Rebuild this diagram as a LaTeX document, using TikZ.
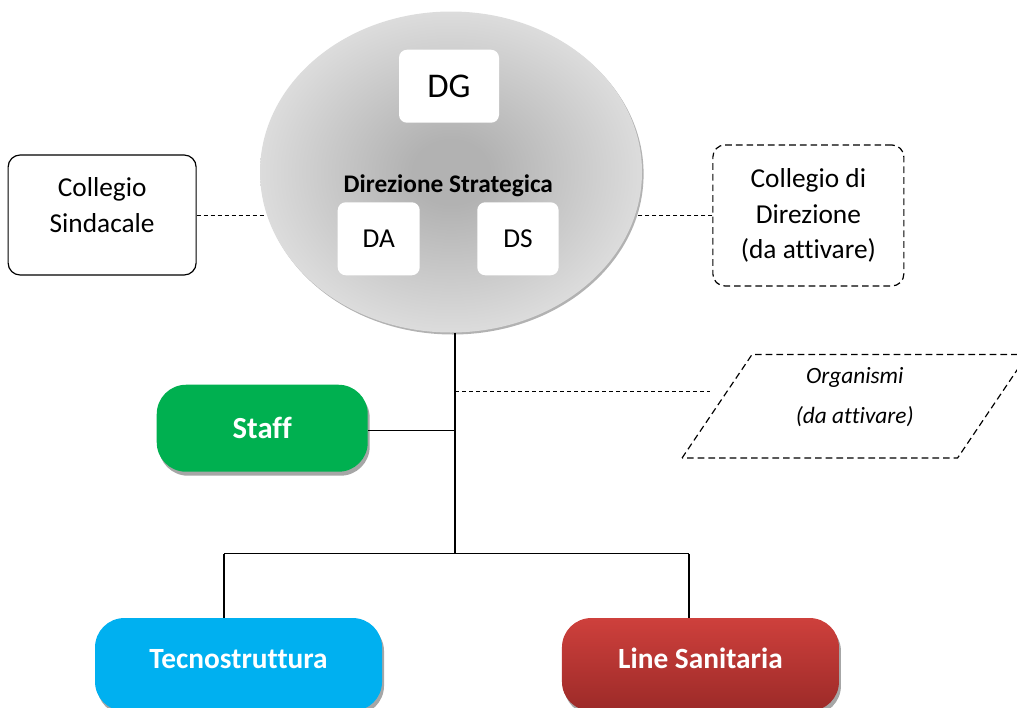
\documentclass[tikz,border=0pt]{standalone}
\usepackage{fontspec}
\setmainfont{Carlito}[Ligatures=NoCommon]
\usetikzlibrary{arrows,calc,positioning,shadows,shapes}

\definecolor{dsin}{RGB}{178,178,178}
\definecolor{dsout}{RGB}{220,220,220}
\definecolor{staffgreen}{RGB}{0,176,80}
\definecolor{tecnoblue}{RGB}{0,176,240}
\definecolor{linetop}{RGB}{206,64,60}
\definecolor{linebot}{RGB}{156,42,40}
\pgfdeclareradialshading{dsshade}{\pgfpoint{0bp}{0bp}}{color(0bp)=(dsin); color(5bp)=(dsin); color(25bp)=(dsout); color(50bp)=(dsout)}

\begin{document}
\begin{tikzpicture}[x=0.75pt, y=-0.75pt]
	\tikzstyle{innerbox} = [rectangle, fill=white, rounded corners=6pt, minimum height=54.75pt, font=\fontsize{20.5}{24}\selectfont]
	\tikzstyle{sidebox} = [rectangle, draw, line width=0.9pt, rounded corners=9pt, align=center, font=\fontsize{20.5}{26.5}\selectfont]
	\tikzstyle{pill} = [rectangle, rounded corners=22pt, text=white, font=\fontsize{22}{26}\selectfont\bfseries, drop shadow={shadow xshift=1.5pt, shadow yshift=-3pt, fill=black!35, opacity=1}]
	\tikzstyle{conn} = [line width=0.8pt]
	\tikzstyle{dconn} = [line width=0.6pt, dash pattern=on 3pt off 2.25pt]

	\useasboundingbox (0,0) rectangle (1017,707);

	\node[ellipse, minimum width=286.5pt, minimum height=240.75pt, shade, shading=dsshade, drop shadow={shadow xshift=1.2pt, shadow yshift=-1.5pt, fill=black!30, opacity=1}] (dirstrat) at (451,172) {};
	\node[font=\fontsize{19}{22}\selectfont\bfseries] (dstext) at ([xshift=-2pt, yshift=-10.5pt]dirstrat.center) {Direzione Strategica};
	\node[innerbox, minimum width=75pt, font=\fontsize{26}{30}\selectfont, above=36.75pt of dirstrat.center, xshift=-1.5pt] (dg) {DG};
	\node[innerbox, minimum width=61.5pt, below left=22.5pt and 23.25pt of dirstrat.center] (da) {DA};
	\node[innerbox, minimum width=61pt, below right=22.5pt and 19.5pt of dirstrat.center] (dsbox) {DS};

	\node[sidebox, minimum width=141pt, minimum height=90pt, left=47.25pt of dirstrat.west, yshift=-32.25pt, label={[align=center, font=\fontsize{20.5}{26.5}\selectfont, yshift=7.5pt]center:Collegio\\Sindacale}] (colsind) {};
	\node[sidebox, dash pattern=on 5pt off 3pt, minimum width=143.25pt, minimum height=105.75pt, right=52.5pt of dirstrat.east, yshift=-32.6pt] (coldir) {Collegio di\\Direzione\\(da attivare)};

	\coordinate (trunktop) at ([xshift=3pt]dirstrat.south);
	\coordinate[below=44.25pt of trunktop] (orgtap);
	\coordinate[below=73.5pt of trunktop] (stafftap);
	\coordinate[below=165.75pt of trunktop] (split);
	\coordinate[left=173.25pt of split] (tecnotap);
	\coordinate[right=175.5pt of split] (linetap);

	\node[pill, fill=staffgreen, minimum width=158.25pt, minimum height=65.25pt, font=\fontsize{23}{27}\selectfont\bfseries, left=65.25pt of stafftap, yshift=1.9pt] (staff) {Staff};
	\node[rectangle, minimum width=206.25pt, minimum height=77.25pt, right=196.5pt of orgtap, yshift=-10.9pt, label={[align=center, font=\fontsize{17.5}{30}\selectfont\itshape, yshift=7pt]center:Organismi\\(da attivare)}] (organismi) {};
	\draw[line width=0.9pt, dash pattern=on 5pt off 3pt] ([xshift=-26.25pt]organismi.south west) -- ([xshift=26.25pt]organismi.north west) -- ([xshift=26.25pt]organismi.north east) -- ([xshift=-26.25pt]organismi.south east) -- cycle;
	\node[pill, fill=tecnoblue, minimum width=215.25pt, minimum height=69.75pt, text depth=9pt, below=48pt of tecnotap, xshift=10.9pt] (tecno) {Tecnostruttura};
	\node[pill, top color=linetop, bottom color=linebot, minimum width=207.75pt, minimum height=69.75pt, text depth=9pt, below=48pt of linetap, xshift=8.6pt] (linesan) {Line Sanitaria};

	\draw[dconn] (colsind.east) -- (colsind.east -| dirstrat.193);
	\draw[dconn] (coldir.west) -- (coldir.west -| dirstrat.-13);
	\draw[conn] (trunktop) -- (split);
	\draw[conn] (stafftap -| staff.east) -- (stafftap);
	\draw[dconn, shorten >=5pt] (orgtap) -- (orgtap -| organismi.west);
	\draw[conn] (tecnotap) -- (linetap);
	\draw[conn] (tecnotap) -- (tecnotap |- tecno.north);
	\draw[conn] (linetap) -- (linetap |- linesan.north);
\end{tikzpicture}
\end{document}
